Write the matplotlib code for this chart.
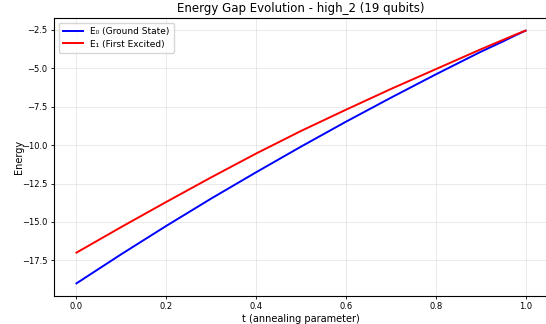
import matplotlib
matplotlib.use("Agg")
import matplotlib.pyplot as plt

t = [0.0, 0.1, 0.2, 0.3, 0.4, 0.5, 0.6, 0.7, 0.8, 0.9, 0.95, 0.98, 1.0]
e0 = [-19.0, -17.1, -15.26, -13.48, -11.77, -10.1, -8.48, -6.92, -5.40, -3.93, -3.25, -2.82, -2.55]
e1 = [-17.0, -15.33, -13.7, -12.1, -10.55, -9.08, -7.7, -6.35, -5.06, -3.77, -3.15, -2.78, -2.55]

title = "Energy Gap Evolution - high_2 (19 qubits)"
xlabel = "t (annealing parameter)"
ylabel = "Energy"
label0 = "E₀ (Ground State)"
label1 = "E₁ (First Excited)"

fig = plt.figure(figsize=(5.46, 3.24), dpi=100)
ax = fig.add_axes([54/546, 1 - 296/324, 494/546, 278/324])
ax.plot(t, e0, color="blue", lw=1.4, label=label0)
ax.plot(t, e1, color="red", lw=1.4, label=label1)
ax.set_title(title, fontsize=8.5, pad=4)
ax.set_xlabel(xlabel, fontsize=7, labelpad=2)
ax.set_ylabel(ylabel, fontsize=7, labelpad=3)
ax.tick_params(labelsize=6, length=2.5, width=0.6, pad=2)
ax.yaxis.set_label_coords(-0.06, 0.5)
ax.grid(True, alpha=0.3, lw=0.6)
for s in ax.spines.values():
    s.set_linewidth(0.8)
ax.legend(loc="upper left", fontsize=6.5, handlelength=2.2, borderpad=0.5, labelspacing=0.4)
fig.savefig("out.png", dpi=100)
